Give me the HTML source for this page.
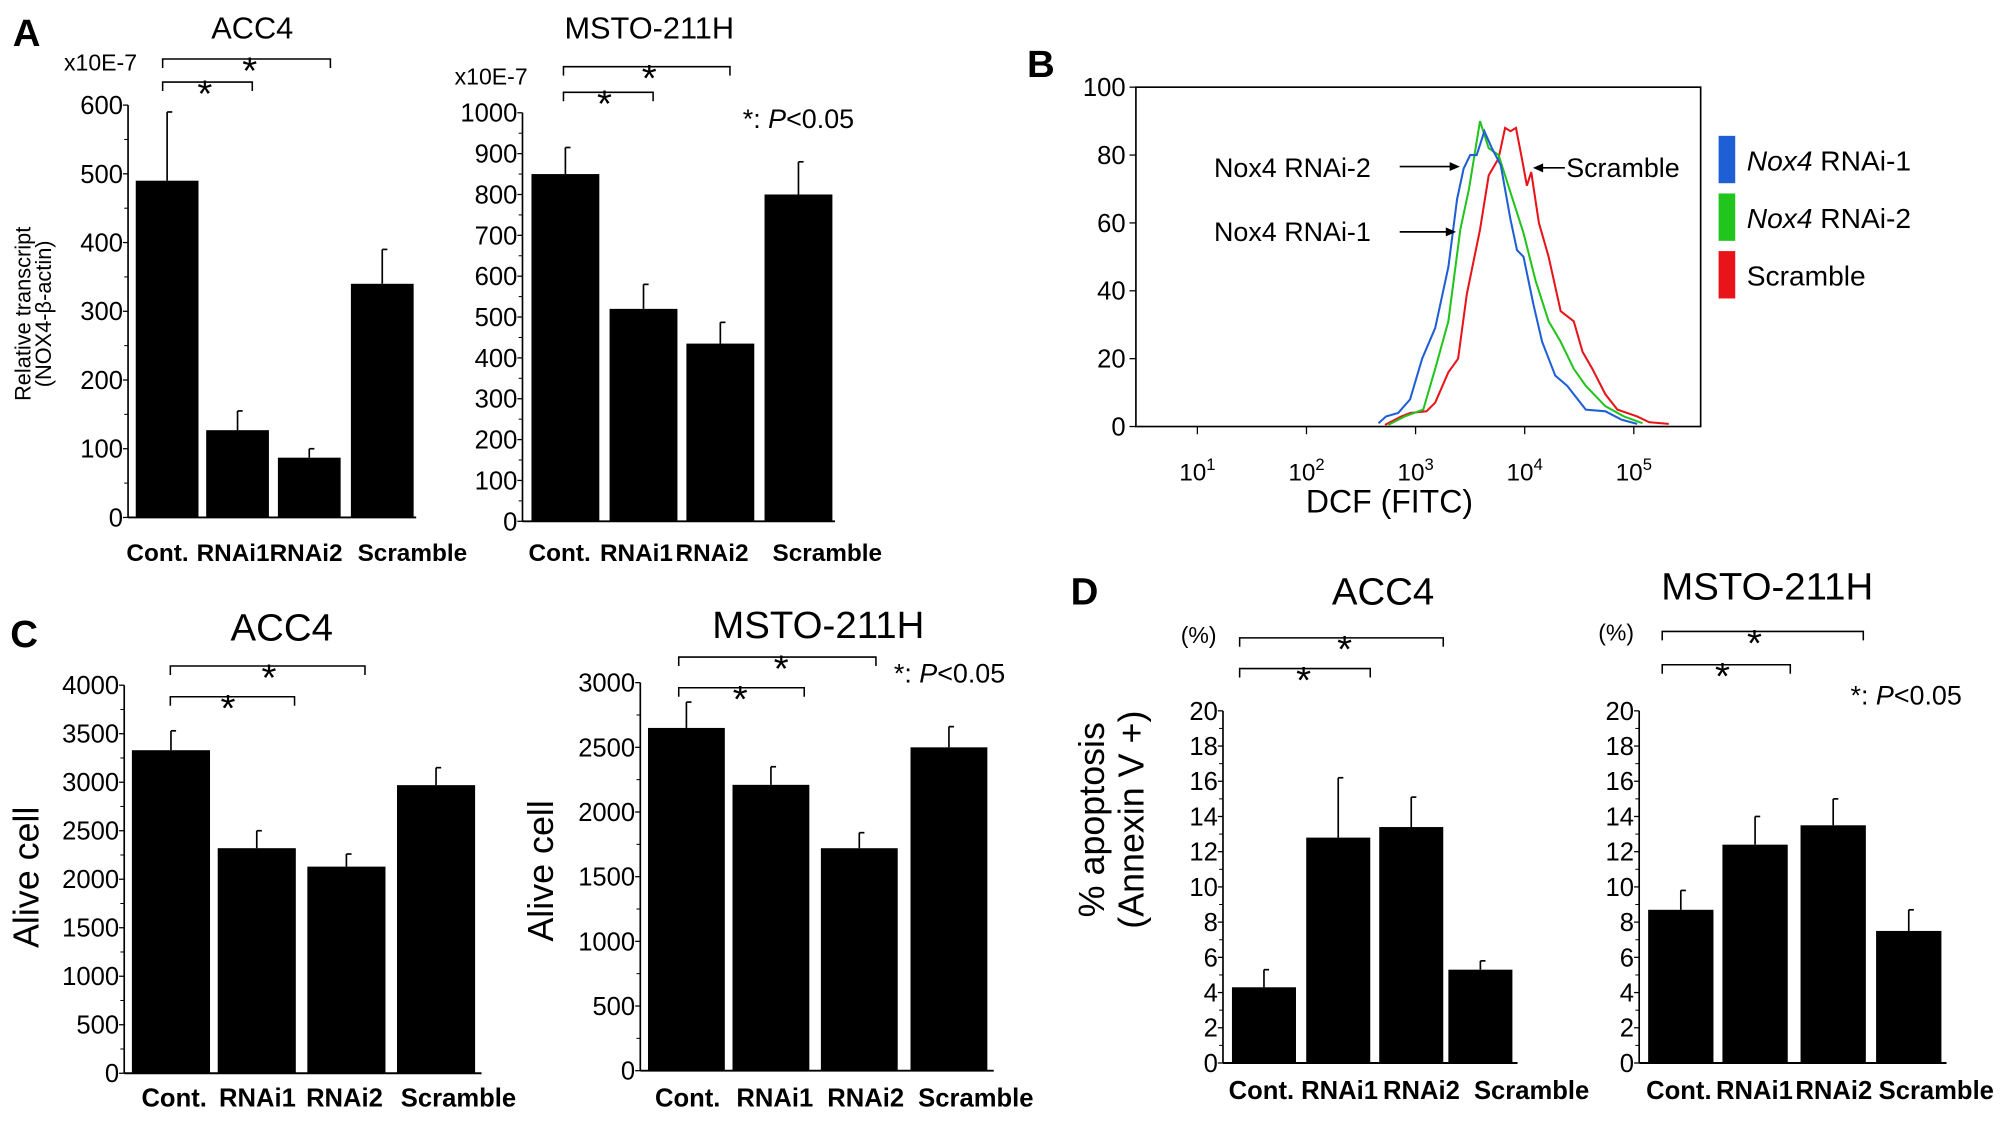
<!DOCTYPE html>
<html><head><meta charset="utf-8">
<style>
html,body{margin:0;padding:0;background:#fff;}
svg{display:block;font-family:"Liberation Sans Narrow","Liberation Sans",sans-serif;}
.b{font-weight:bold;}
</style></head>
<body>
<svg id="fig" width="2008" height="1122" viewBox="0 0 1568 876" xmlns="http://www.w3.org/2000/svg">
<rect width="1568" height="876" fill="#fff"/>
<g id="layer"></g>
</svg>
<script>
// ---- data ----
const categories = ["Cont.", "RNAi1", "RNAi2", "Scramble"];
const accTranscript = [490, 127, 87, 340];
const accTranscriptErr = [590, 155, 100, 390];
const mstoTranscript = [850, 520, 435, 800];
const mstoTranscriptErr = [915, 580, 487, 880];
const accAlive = [3330, 2320, 2130, 2970];
const accAliveErr = [3530, 2500, 2260, 3150];
const mstoAlive = [2650, 2210, 1720, 2500];
const mstoAliveErr = [2850, 2350, 1840, 2660];
const accApop = [4.3, 12.8, 13.4, 5.3];
const accApopErr = [5.3, 16.2, 15.1, 5.8];
const mstoApop = [8.7, 12.4, 13.5, 7.5];
const mstoApopErr = [9.8, 14.0, 15.0, 8.7];
const ticksA1 = [0,100,200,300,400,500,600];
const ticksA2 = [0,100,200,300,400,500,600,700,800,900,1000];
const ticksC1 = [0,500,1000,1500,2000,2500,3000,3500,4000];
const ticksC2 = [0,500,1000,1500,2000,2500,3000];
const ticksD = [0,2,4,6,8,10,12,14,16,18,20];
// flow cytometry histograms: log10(DCF) and % of max
const blueLog = [2.66,2.73,2.84,2.95,3.06,3.18,3.30,3.38,3.44,3.50,3.56,3.63,3.70,3.78,3.87,3.93,3.99,4.08,4.16,4.28,4.39,4.56,4.74,4.89,5.03];
const blueY = [1,3,4,8,20,29,47,67,76,80,80,87,82,77,61,52,50,36,25,15,12,5,4.5,2,0.8];
const greenLog = [2.75,2.90,3.07,3.18,3.30,3.41,3.49,3.59,3.67,3.76,3.87,3.99,4.10,4.22,4.33,4.45,4.56,4.74,4.91,5.08];
const greenY = [0.5,3,5,17,31,58,70,90,82,80,69,57,43,31,25,17,12,6,3,1];
const redLog = [2.72,2.87,2.95,3.10,3.18,3.30,3.39,3.47,3.59,3.67,3.76,3.82,3.87,3.92,3.98,4.02,4.06,4.13,4.22,4.33,4.45,4.53,4.62,4.74,4.85,5.03,5.14,5.32];
const redY = [0.5,3,4,4.5,7,16,20,39,58,74,79,88,87,88,78,71,75,60,50,34,31,22,17,9.5,5,3,1.3,0.8];
const flowTicksY = [0,20,40,60,80,100];
const flowTicksX = [1,2,3,4,5];

const NS="http://www.w3.org/2000/svg";
const L=document.getElementById('layer');
function el(tag, attrs, parent){const e=document.createElementNS(NS,tag);for(const k in attrs)e.setAttribute(k,attrs[k]);(parent||L).appendChild(e);return e;}
function txt(x,y,s,size,anchor,parent,cls){const t=el('text',{x:x,y:y,'font-size':size,'text-anchor':anchor||'middle'},parent);if(cls)t.setAttribute('class',cls);t.textContent=s;return t;}

function barChart(o){
  const g=el('g',{});
  
  
  const ys=v=>o.y0-(v-o.vmin)/(o.vmax-o.vmin)*(o.y0-o.ytop);
  const ax=el('line',{x1:o.ax,y1:ys(o.vmin),x2:o.ax,y2:ys(o.ticks[o.ticks.length-1]),stroke:'#000','stroke-width':1.3},g);
  
  
  const bx=el('line',{x1:o.ax,y1:o.y0,x2:o.axEnd,y2:o.y0,stroke:'#000','stroke-width':1.5},g);
  
  
  for(let i=0;i<o.ticks.length;i++){
    const v=o.ticks[i], y=ys(v);
    el('line',{x1:o.ax-4,y1:y,x2:o.ax,y2:y,stroke:'#000','stroke-width':1},g);
    const t=txt(o.ax-4,y+7,String(v),o.tickSize||20,'end',g);
    
    
    if(i<o.ticks.length-1){const m=ys((v+o.ticks[i+1])/2);el('line',{x1:o.ax-3,y1:m,x2:o.ax,y2:m,stroke:'#000','stroke-width':0.8},g);}
  }
  for(let i=0;i<o.vals.length;i++){
    const x=o.barX[i], w=o.barW, top=ys(o.vals[i]), et=ys(o.errs[i]), cx=x+w/2;
    const r=el('rect',{x:x,y:top,width:w,height:o.y0-top,fill:'#000'},g);
    
    
    const e=el('line',{x1:cx,y1:top,x2:cx,y2:et,stroke:'#000','stroke-width':1.3},g);
    
    
    el('line',{x1:cx,y1:et,x2:cx+4,y2:et,stroke:'#000','stroke-width':1.3},g);
    const c=txt(o.labelX[i],o.labelY,categories[i],o.labelSize||20,'middle',g,'b');
    
    
  }
  const ti=txt(o.titleX,o.titleY,o.title,o.titleSize||24,'middle',g);
  
  
  (o.brackets||[]).forEach(b=>{
    const p=el('path',{d:`M${b[0]} ${b[2]+7} V${b[2]} H${b[1]} V${b[2]+7}`,fill:'none',stroke:'#000','stroke-width':1.2},g);
    
    
    const s=txt(b[3],b[2]+19,'*',30,'middle',g);
    
    
  });
  return g;
}

// Panel A
barChart({name:'panel-a-acc4-chart',ax:100,axEnd:325,y0:404,ytop:82,vmin:0,vmax:600,ticks:ticksA1,vals:accTranscript,errs:accTranscriptErr,
  barX:[106,161,217,274],barW:49,labelX:[123,182,239,322],labelY:438,labelSize:19,title:'ACC4',titleX:197,titleY:30,
  brackets:[[127,197,64,160],[127,258,46,195]]});
barChart({name:'panel-a-msto-chart',ax:408,axEnd:652,y0:407,ytop:88,vmin:0,vmax:1000,ticks:ticksA2,vals:mstoTranscript,errs:mstoTranscriptErr,
  barX:[415,476,536,597],barW:53,labelX:[437,497,556,646],labelY:438,labelSize:19,title:'MSTO-211H',titleX:507,titleY:30,
  brackets:[[440,510,72,472],[440,570,52,507]]});
// Panel C
barChart({name:'panel-c-acc4-chart',ax:97,axEnd:376,y0:838,ytop:535,vmin:0,vmax:4000,ticks:ticksC1,vals:accAlive,errs:accAliveErr,
  barX:[103,170,240,310],barW:61,labelX:[136,201,269,358],labelY:864,title:'ACC4',titleX:220,titleY:500,titleSize:30,
  brackets:[[133,230,544,178],[133,285,520,210]]});
barChart({name:'panel-c-msto-chart',ax:500,axEnd:776,y0:836,ytop:533,vmin:0,vmax:3000,ticks:ticksC2,vals:mstoAlive,errs:mstoAliveErr,
  barX:[506,572,641,711],barW:60,labelX:[537,605,676,762],labelY:864,title:'MSTO-211H',titleX:639,titleY:498,titleSize:30,
  brackets:[[530,628,537,578],[530,684,513,610]]});
// Panel D
barChart({name:'panel-d-acc4-chart',ax:955,axEnd:1185,y0:830,ytop:555,vmin:0,vmax:20,ticks:ticksD,vals:accApop,errs:accApopErr,
  barX:[962,1020,1077,1131],barW:50,labelX:[985,1046,1110,1196],labelY:858,title:'ACC4',titleX:1080,titleY:472,titleSize:30,
  brackets:[[968,1070,522,1018],[968,1127,498,1050]]});
barChart({name:'panel-d-msto-chart',ax:1280,axEnd:1520,y0:830,ytop:555,vmin:0,vmax:20,ticks:ticksD,vals:mstoApop,errs:mstoApopErr,
  barX:[1287,1345,1406,1465],barW:51,labelX:[1311,1370,1432,1512],labelY:858,title:'MSTO-211H',titleX:1380,titleY:468,titleSize:30,
  brackets:[[1298,1398,519,1345],[1298,1455,493,1370]]});

// Panel B flow histogram
(function(){
  const g=el('g',{});
  
  
  const x0=887,x1=1328,yb=333,yt=68;
  const xs=l=>935+(l-1)*85.2, ys=v=>yb-v/100*(yb-yt);
  el('rect',{x:x0,y:yt,width:x1-x0,height:yb-yt,fill:'none',stroke:'#000','stroke-width':1.3},g);
  flowTicksY.forEach(v=>{el('line',{x1:x0-5,y1:ys(v),x2:x0,y2:ys(v),stroke:'#000'},g);
    const t=txt(x0-8,ys(v)+7,String(v),20,'end',g);
    
    });
  flowTicksX.forEach(v=>{el('line',{x1:xs(v),y1:yb,x2:xs(v),y2:yb+6,stroke:'#000'},g);
    const t=el('text',{x:xs(v),y:yb+42,'font-size':19,'text-anchor':'middle'},g);
    
    
    t.textContent='10';const s=el('tspan',{dy:-8,'font-size':13},t);s.textContent=String(v);});
  function line(lg,yv,col,name){
    let d='';for(let i=0;i<lg.length;i++)d+=(i?'L':'M')+xs(lg[i]).toFixed(1)+' '+ys(yv[i]).toFixed(1);
    const p=el('path',{d:d,fill:'none',stroke:col,'stroke-width':1.6},g);
    
    
  }
  line(redLog,redY,'#e8141a','scramble-curve');
  line(greenLog,greenY,'#22c41e','rnai2-curve');
  line(blueLog,blueY,'#1f5fd6','rnai1-curve');
  const xl=txt(1085,400,'DCF (FITC)',25,'middle',g);
  
  
  const ann=[['Nox4 RNAi-2',948,138,1093,1140,130],['Nox4 RNAi-1',948,188,1093,1137,181]];
  ann.forEach(a=>{const t=txt(a[1],a[2],a[0],21,'start',g);
    
    
    el('line',{x1:a[3],y1:a[5],x2:a[4]-6,y2:a[5],stroke:'#000','stroke-width':1.3},g);
    el('path',{d:`M${a[4]} ${a[5]} l-8 -3.5 v7z`,fill:'#000'},g);});
  const sc=txt(1223,138,'Scramble',21,'start',g);
  
  
  el('line',{x1:1222,y1:131,x2:1203,y2:131,stroke:'#000','stroke-width':1.3},g);
  el('path',{d:'M1197 131 l8 -3.5 v7z',fill:'#000'},g);
  const leg=[['#1f5fd6',106,'RNAi-1',true],['#22c41e',151,'RNAi-2',true],['#e8141a',196,'Scramble',false]];
  leg.forEach(l=>{
    const r=el('rect',{x:1342,y:l[1],width:13,height:37,fill:l[0]},g);
    
    
    const t=el('text',{x:1364,y:l[1]+27,'font-size':22},g);
    
    
    if(l[3]){const i=el('tspan',{'font-style':'italic'},t);i.textContent='Nox4';const r2=el('tspan',{},t);r2.textContent=' '+l[2];}
    else t.textContent=l[2];
  });
})();

// Static labels
const labels=[
 ['A',10,36,30,'start','bold','panel-label-a'],['B',802,60,30,'start','bold','panel-label-b'],
 ['C',8,505,30,'start','bold','panel-label-c'],['D',836,472,30,'start','bold','panel-label-d'],
 ['x10E-7',50,55,18,'start','','unit-label'],['x10E-7',355,66,18,'start','','unit-label'],
 ['(%)',922,502,18,'start','','unit-label'],['(%)',1248,500,18,'start','','unit-label']
];
labels.forEach(a=>{const t=txt(a[1],a[2],a[0],a[3],a[4]);if(a[5])t.setAttribute('font-weight',a[5]);
 
 });
function pnote(x,y,size){const t=el('text',{x:x,y:y,'font-size':size});
 
 
 const a=el('tspan',{},t);a.textContent='*: ';const b=el('tspan',{'font-style':'italic'},t);b.textContent='P';const c=el('tspan',{},t);c.textContent='<0.05';}
pnote(580,100,21);pnote(698,533,21);pnote(1445,550,21);
function rot(x,y,s,size,name){const t=el('text',{x:0,y:0,'font-size':size,'text-anchor':'middle',transform:`translate(${x},${y}) rotate(-90)`});t.textContent=s;
 
 }
rot(24,245,'Relative transcript',17,'y-axis-title');
rot(40,245,'(NOX4-β-actin)',17,'y-axis-title');
rot(30,685,'Alive cell',28,'y-axis-title');
rot(432,680,'Alive cell',28,'y-axis-title');
rot(862,640,'% apoptosis',28,'y-axis-title');
rot(893,640,'(Annexin V +)',28,'y-axis-title');
</script>
</body></html>
